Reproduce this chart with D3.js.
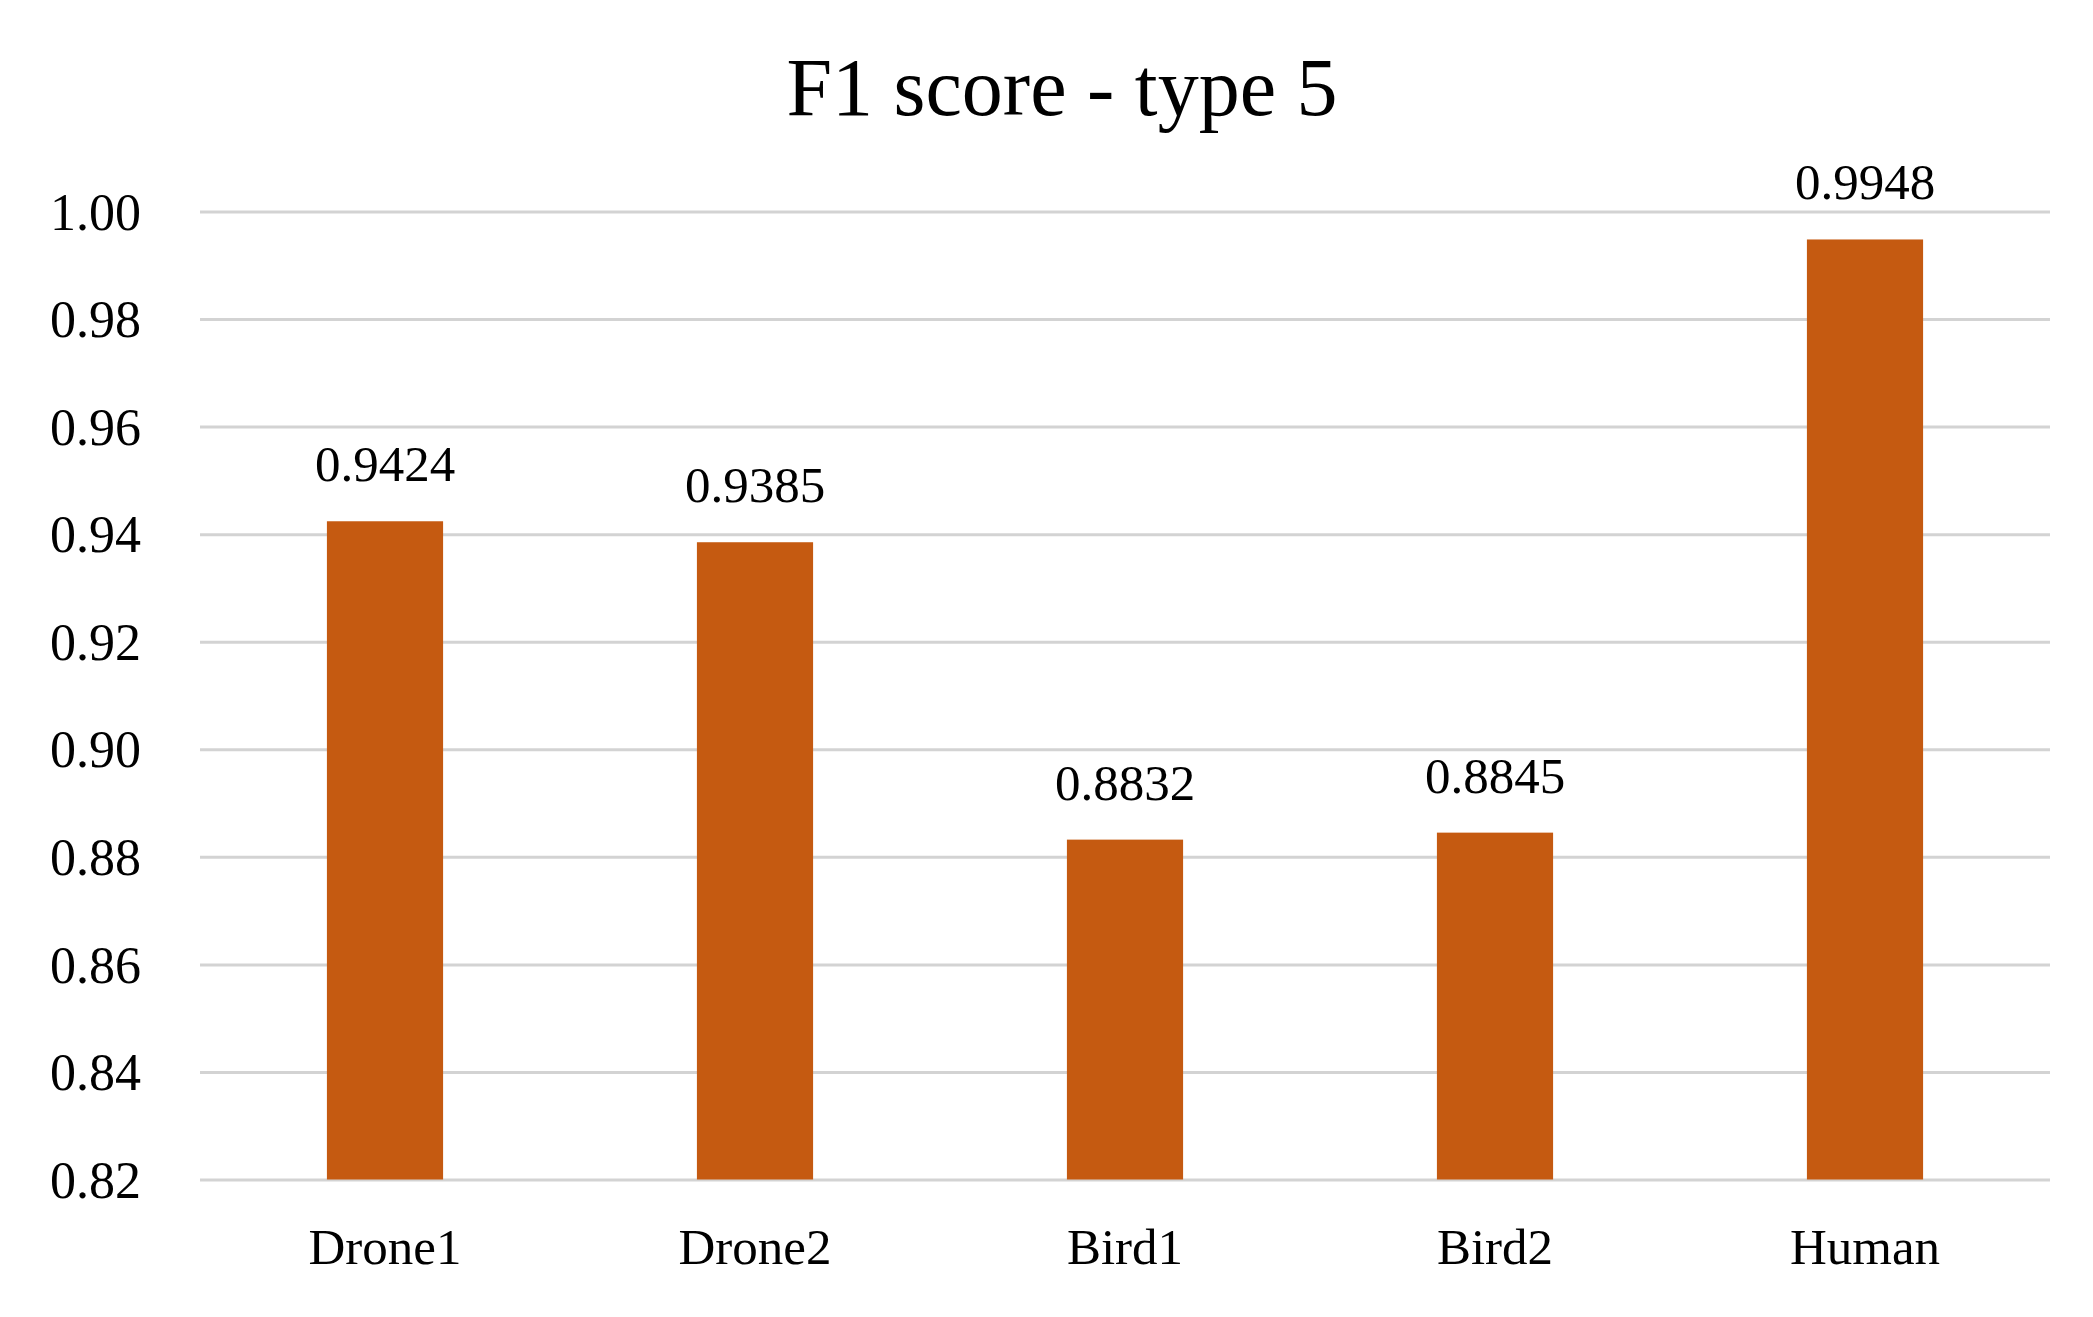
<!DOCTYPE html>
<html>
<head>
<meta charset="utf-8">
<script src="https://cdn.jsdelivr.net/npm/d3@7"></script>
<style>
  html, body { margin: 0; padding: 0; background: #fff; }
  svg { display: block; }
  text { font-family: "Liberation Serif", "Times New Roman", serif; fill: #000; }
</style>
</head>
<body>
<svg id="chart" width="2093" height="1317"></svg>
<script>
const categories = ["Drone1", "Drone2", "Bird1", "Bird2", "Human"];
const values = [0.9424, 0.9385, 0.8832, 0.8845, 0.9948];
const valueLabels = ["0.9424", "0.9385", "0.8832", "0.8845", "0.9948"];
const yTicks = [0.82, 0.84, 0.86, 0.88, 0.90, 0.92, 0.94, 0.96, 0.98, 1.00];
const chartTitle = "F1 score - type 5";

(function () {
const svg = d3.select("#chart");
const W = 2093, H = 1317;
const mLeft = 200, mRight = 2050, mTop = 211.5, mBottom = 1179.5;

const x = d3.scaleBand().domain(categories).range([mLeft, mRight])
  .paddingInner(0.686).paddingOuter(0.343);
const y = d3.scaleLinear().domain([0.82, 1.00]).range([mBottom, mTop]);

svg.append("rect").attr("width", W).attr("height", H).attr("fill", "#fff");

// gridlines
const grid = svg.append("g").attr("transform", `translate(${mLeft},0)`)
  .call(d3.axisLeft(y).tickValues(yTicks).tickSize(-(mRight - mLeft)).tickFormat(""));
grid.select(".domain").remove();
grid.selectAll("line").attr("stroke", "#d3d3d3").attr("stroke-width", 3);

// y labels
const yAxis = svg.append("g").attr("transform", `translate(141,0)`)
  .call(d3.axisLeft(y).tickValues(yTicks).tickSize(0).tickPadding(0).tickFormat(d3.format(".2f")));
yAxis.select(".domain").remove();
yAxis.selectAll("text").attr("font-size", 52).attr("font-family", '"Liberation Serif", "Times New Roman", serif')
  .attr("fill", "#000").attr("dy", "0.34em");

// bars
svg.append("g").selectAll("rect").data(values).join("rect")
  .attr("x", (d, i) => x(categories[i]))
  .attr("width", x.bandwidth())
  .attr("y", d => y(d))
  .attr("height", d => y(0.82) - y(d))
  .attr("fill", "#c55a11");

// value labels
svg.append("g").selectAll("text").data(values).join("text")
  .attr("x", (d, i) => x(categories[i]) + x.bandwidth() / 2)
  .attr("y", d => y(d) - 40)
  .attr("text-anchor", "middle")
  .attr("font-size", 51)
  .text((d, i) => valueLabels[i]);

// x labels
const xAxis = svg.append("g").attr("transform", `translate(0,${mBottom})`)
  .call(d3.axisBottom(x).tickSize(0).tickPadding(0));
xAxis.select(".domain").remove();
xAxis.selectAll("text").attr("font-size", 51).attr("font-family", '"Liberation Serif", "Times New Roman", serif')
  .attr("fill", "#000").attr("dy", null).attr("y", 84);

// title
svg.append("text").attr("x", 1062).attr("y", 115)
  .attr("text-anchor", "middle").attr("font-size", 82).text(chartTitle);
})();
</script>
</body>
</html>
